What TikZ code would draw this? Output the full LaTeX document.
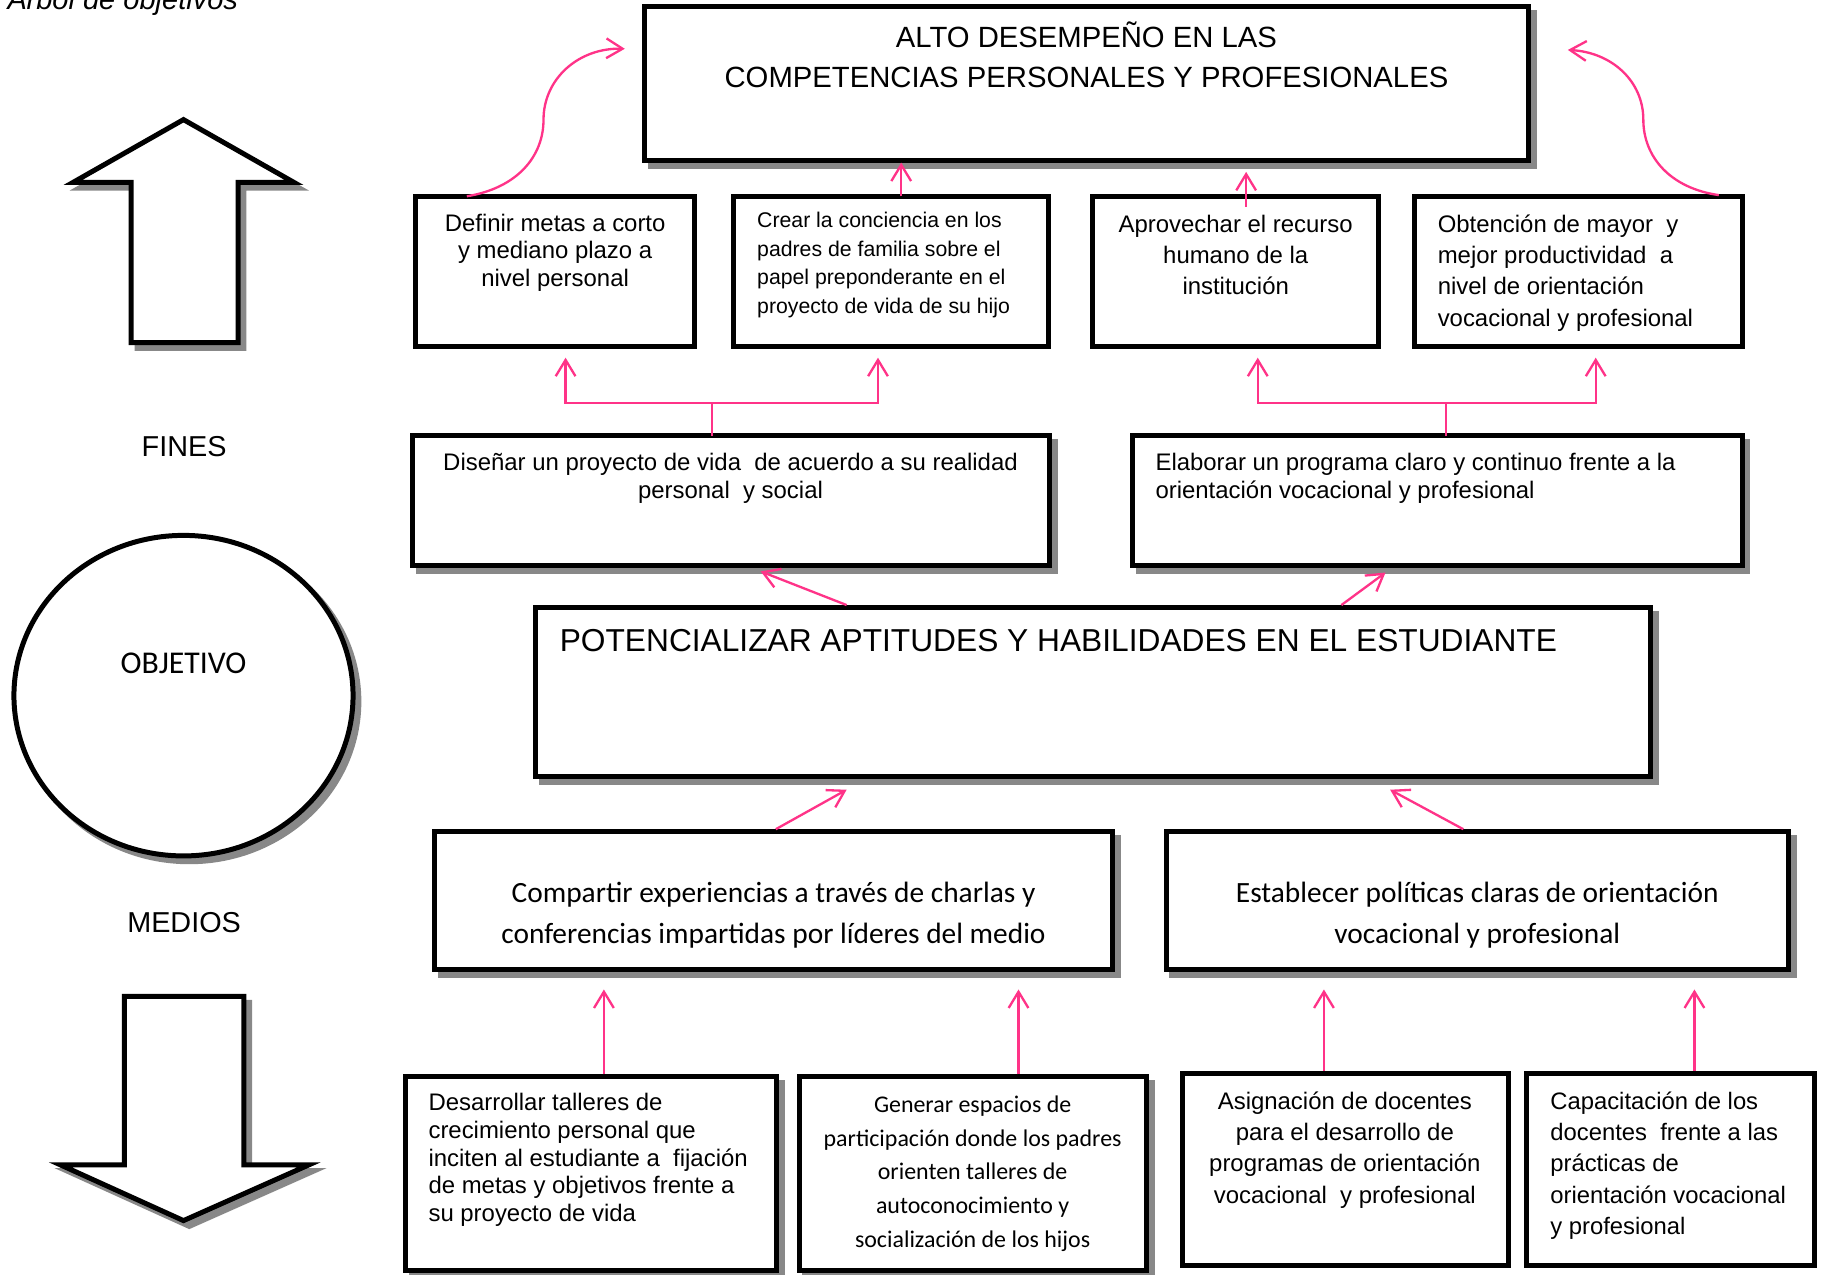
\documentclass[tikz,border=0pt]{standalone}
\usepackage{fontspec}
\setmainfont{Liberation Sans}
\newfontfamily\calfont{Carlito}
\usetikzlibrary{arrows.meta,calc,shapes.geometric}
\definecolor{pk}{RGB}{255,51,136}
\definecolor{shd}{RGB}{136,136,136}
\begin{document}
\begin{tikzpicture}[x=1pt,y=-1pt,
  box/.style={draw, line width=4.3pt, fill=white, rectangle, inner sep=0pt, outer sep=0pt},
  shadowed/.style={preaction={draw=shd, fill=shd, line width=4.3pt, transform canvas={xshift=5pt,yshift=-5pt}}},
  shbox/.style={box, shadowed},
  pa/.style={draw=pk, line width=2pt, -{Straight Barb[length=14pt,width=17pt]}},
  pl/.style={draw=pk, line width=2pt},
  txt/.style={inner sep=0pt, outer sep=0pt},
  fA/.style={font=\fontsize{20.6}{24}\selectfont},
  bigarrow/.style={draw, line width=4.3pt, line join=miter, fill=white},
  ]
\useasboundingbox (0,0) rectangle (1568,1097);

% title
\node[txt, anchor=base east, font=\fontsize{25}{30}\selectfont\itshape] (title) at (205,8) {Árbol de objetivos};

% left side arrows and ellipse
\draw[bigarrow, draw=shd, fill=shd, shift={(5,5)}] (113,295) -- (113,157) -- (63,157) -- (158,103) -- (253,157) -- (205,157) -- (205,295) -- cycle;
\draw[bigarrow] (113,295) -- (113,157) -- (63,157) -- (158,103) -- (253,157) -- (205,157) -- (205,295) -- cycle;
\draw[bigarrow, draw=shd, fill=shd, shift={(5,5)}] (107,858) -- (210,858) -- (210,1003) -- (266,1003) -- (158,1051) -- (52,1003) -- (107,1003) -- cycle;
\draw[bigarrow] (107,858) -- (210,858) -- (210,1003) -- (266,1003) -- (158,1051) -- (52,1003) -- (107,1003) -- cycle;

\node[txt, anchor=base, font=\fontsize{24.8}{30}\selectfont] (fines) at (158.5,393) {FINES};
\node[draw, ellipse, line width=4.3pt, fill=white, inner sep=0pt, minimum width=292pt, minimum height=276pt, shadowed] (obj) at (158,599) {};
\node[txt, anchor=base, font=\calfont\fontsize{27.3}{32}\selectfont] (objt) at (158,580) {OBJETIVO};
\node[txt, anchor=base, font=\fontsize{24.8}{30}\selectfont] (medios) at (158.5,803) {MEDIOS};

% boxes
\node[shbox, minimum width=761pt, minimum height=132pt] (top) at (935.5,72) {};
\node[box, minimum width=240pt, minimum height=129pt] (A) at (478,233.5) {};
\node[box, minimum width=271pt, minimum height=129pt] (B) at (767.5,233.5) {};
\node[box, minimum width=246pt, minimum height=129pt] (C) at (1064,233.5) {};
\node[box, minimum width=282pt, minimum height=129pt] (D) at (1359,233.5) {};
\node[shbox, minimum width=549pt, minimum height=112pt] (E) at (629.5,431) {};
\node[shbox, minimum width=525pt, minimum height=112pt] (F) at (1237.5,431) {};
\node[shbox, minimum width=960pt, minimum height=146pt] (M) at (941,596) {};
\node[shbox, minimum width=584pt, minimum height=119pt] (G) at (666,775.5) {};
\node[shbox, minimum width=536pt, minimum height=119pt] (H) at (1272,775.5) {};
\node[shbox, minimum width=320pt, minimum height=167pt] (I) at (509,1010.5) {};
\node[shbox, minimum width=299pt, minimum height=167pt] (J) at (837.5,1010.5) {};
\node[box, minimum width=281pt, minimum height=166pt] (K) at (1158.5,1007) {};
\node[box, minimum width=248pt, minimum height=166pt] (L) at (1438,1007) {};

% texts (anchor base = baseline of the last line)
\node[txt, align=center, anchor=base, font=\fontsize{25.2}{34}\selectfont] (ttop) at (935.5,75) {ALTO DESEMPEÑO EN LAS\\COMPETENCIAS PERSONALES Y PROFESIONALES};
\node[txt, align=center, anchor=base, fA] (tA) at (478,247) {Definir metas a corto\\y mediano plazo a\\nivel personal};
\node[txt, align=left, anchor=base west, font=\fontsize{18.3}{24.7}\selectfont] (tB) at (652,270) {Crear la conciencia en los\\padres de familia sobre el\\papel preponderante en el\\proyecto de vida de su hijo};
\node[txt, align=center, anchor=base, font=\fontsize{20.6}{27}\selectfont] (tC) at (1064,254) {Aprovechar el recurso\\humano de la\\institución};
\node[txt, align=left, anchor=base west, font=\fontsize{20.6}{27}\selectfont] (tD) at (1238,281) {Obtención de mayor~ y\\mejor productividad~ a\\nivel de orientación\\vocacional y profesional};
\node[txt, align=center, anchor=base, fA] (tE) at (629,429) {Diseñar un proyecto de vida~ de acuerdo a su realidad\\personal~ y social};
\node[txt, align=left, anchor=base west, fA] (tF) at (995,429) {Elaborar un programa claro y continuo frente a la\\orientación vocacional y profesional};
\node[txt, anchor=base west, font=\fontsize{27.3}{32}\selectfont] (tM) at (482,561) {POTENCIALIZAR APTITUDES Y HABILIDADES EN EL ESTUDIANTE};
\node[txt, align=center, anchor=base, font=\calfont\fontsize{25.3}{35}\selectfont] (tG) at (666,812) {Compartir experiencias a través de charlas y\\conferencias impartidas por líderes del medio};
\node[txt, align=center, anchor=base, font=\calfont\fontsize{25.3}{35}\selectfont] (tH) at (1272,812) {Establecer políticas claras de orientación\\vocacional y profesional};
\node[txt, align=left, anchor=base west, fA] (tI) at (369,1052) {Desarrollar talleres de\\crecimiento personal que\\inciten al estudiante a~ fijación\\de metas y objetivos frente a\\su proyecto de vida};
\node[txt, align=center, anchor=base, font=\calfont\fontsize{20.6}{29}\selectfont] (tJ) at (837.5,1074) {Generar espacios de\\participación donde los padres\\orienten talleres de\\autoconocimiento y\\socialización de los hijos};
\node[txt, align=center, anchor=base, font=\fontsize{20.6}{27}\selectfont] (tK) at (1158,1036) {Asignación de docentes\\para el desarrollo de\\programas de orientación\\vocacional~ y profesional};
\node[txt, align=left, anchor=base west, font=\fontsize{20.5}{27}\selectfont] (tL) at (1335,1063) {Capacitación de los\\docentes~ frente a las\\prácticas de\\orientación vocacional\\y profesional};

% connectors: curves to top box
\coordinate (lc0) at ($(A.north)+(-76,0)$);
\coordinate (lc1) at ($(top.west)+(-87,31)$);
\coordinate (lc2) at ($(top.west)+(-17,-30)$);
\draw[pa] (lc0) .. controls ($(lc0)+(43,-7)$) and ($(lc1)+(0,32)$) .. (lc1)
  .. controls ($(lc1)+(0,-35)$) and ($(lc2)+(-40,-1)$) .. (lc2);
\coordinate (rc0) at ($(D.north)+(121,-1)$);
\coordinate (rc1) at ($(top.east)+(99,31)$);
\coordinate (rc2) at ($(top.east)+(34,-29)$);
\draw[pa] (rc0) .. controls ($(rc0)+(-42,-6)$) and ($(rc1)+(0,32)$) .. (rc1)
  .. controls ($(rc1)+(0,-33)$) and ($(rc2)+(38,2)$) .. (rc2);

\draw[pa] ($(B.north)+(8.5,0)$) -- ($(top.south)+(-159.5,2)$);
\draw[pa] ($(C.north)+(9,9)$) -- ($(top.south)+(137.5,10)$);

% trees from E and F
\coordinate (jE) at ($(E.north)+(-16.5,-28)$);
\draw[pl] ($(E.north)+(-16.5,0)$) -- (jE);
\draw[pa] (jE) -| ($(A.south)+(9,10)$);
\draw[pa] (jE) -| ($(B.south)+(-11.5,10)$);
\coordinate (jF) at ($(F.north)+(7.5,-28)$);
\draw[pl] ($(F.north)+(7.5,0)$) -- (jF);
\draw[pa] (jF) -| ($(C.south)+(19,10)$);
\draw[pa] (jF) -| ($(D.south)+(15,10)$);

% main to E, F
\draw[pa] ($(M.north)+(-212,-2)$) -- ($(E.south)+(25.5,5)$);
\draw[pa] ($(M.north)+(214,-2)$) -- ($(F.south)+(-44.5,6)$);

% G, H to main
\draw[pa] ($(G.north)+(2,-2)$) -- ($(M.south)+(-212,11)$);
\draw[pa] ($(H.north)+(-12,-2)$) -- ($(M.south)+(256,11)$);

% bottom boxes to G, H
\draw[pa] ($(I.north)+(11,-2)$) -- ($(G.south)+(-146,17)$);
\draw[pa] ($(J.north)+(39.5,-2)$) -- ($(G.south)+(211,17)$);
\draw[pa] ($(K.north)+(-18.5,-2)$) -- ($(H.south)+(-132,17)$);
\draw[pa] ($(L.north)+(21,-2)$) -- ($(H.south)+(187,17)$);
\end{tikzpicture}
\end{document}
